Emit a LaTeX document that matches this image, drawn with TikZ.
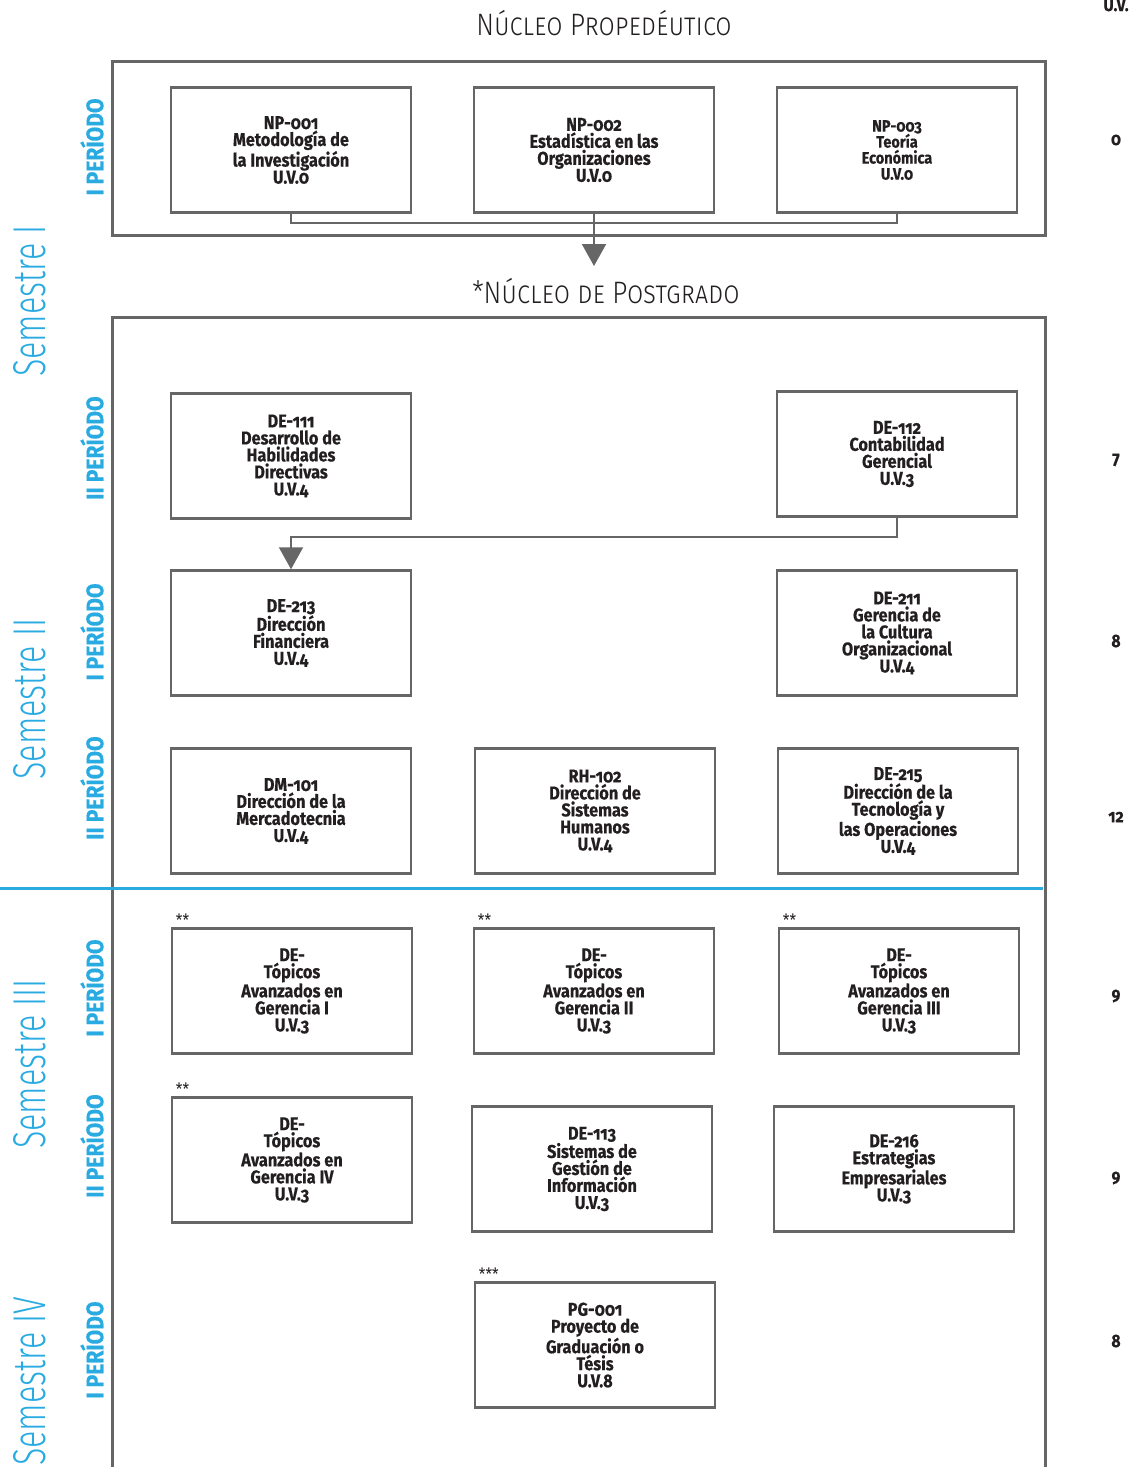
\documentclass[tikz,border=0pt]{standalone}
\usepackage{fontspec}
\usetikzlibrary{arrows.meta}
\newfontfamily\boxfont{Fira Sans}[Numbers=OldStyle,FakeStretch=0.88,BoldFeatures={FakeBold=0.4}]
\newfontfamily\semfont{Fira Sans Light}[FakeStretch=0.7]
\newfontfamily\titlefont{Fira Sans Light}[Letters=SmallCaps,FakeStretch=0.85]
\definecolor{framegray}{HTML}{666666}
\definecolor{semblue}{HTML}{29ABE2}
\definecolor{inktext}{HTML}{231F20}
\tikzset{
  curso/.style={draw=framegray, line width=2.5pt, fill=white, minimum width=240pt,
    minimum height=125pt, align=center, inner sep=0pt, text=inktext,
    font=\boxfont\bfseries\fontsize{18.5}{17}\selectfont},
  marco/.style={draw=framegray, line width=3pt},
  enlace/.style={draw=framegray, line width=2pt},
  flecha/.style={enlace, -{Triangle[width=24pt,length=22pt]}},
  semestre/.style={rotate=90, text=semblue, font=\semfont\fontsize{46}{46}\selectfont},
  periodo/.style={rotate=90, text=semblue, font=\boxfont\bfseries\fontsize{24}{24}\selectfont},
  uv/.style={text=inktext, font=\boxfont\bfseries\fontsize{18}{18}\selectfont},
  nota/.style={anchor=south west, inner sep=0pt, text=inktext, font=\boxfont\fontsize{17}{17}\selectfont},
  titulo/.style={text=inktext, font=\titlefont\fontsize{31}{31}\selectfont}
}
\begin{document}
\begin{tikzpicture}[x=1pt,y=-1pt]
  \useasboundingbox (0,0) rectangle (1144,1467);

  % titulos y marcos
  \node[titulo] (tprop) at (604,23) {Núcleo Propedéutico};
  \node[titulo] (tpost) at (606,291) {*Núcleo de Postgrado};
  \node[uv, anchor=base] (uvhead) at (1116,11) {U.V.};
  \draw[marco] (112,61) rectangle (1045,235);
  \draw[marco] (112,1470) -- (112,317) -- (1045,317) -- (1045,1470);
  \draw[semblue, line width=3pt] (0,888) -- (1043,888);

  % semestres
  \node[semestre] (sem1) at (30,301) {Semestre I};
  \node[semestre] (sem2) at (30,699) {Semestre II};
  \node[semestre] (sem3) at (30,1064) {Semestre III};
  \node[semestre, anchor=west, inner sep=0pt] (sem4) at (30,1466) {Semestre IV};

  % periodos
  \node[periodo] (per1a) at (92,147) {I PERÍODO};
  \node[periodo] (per1b) at (92,448) {II PERÍODO};
  \node[periodo] (per2a) at (92,632) {I PERÍODO};
  \node[periodo] (per2b) at (92,788) {II PERÍODO};
  \node[periodo] (per3a) at (92,988) {I PERÍODO};
  \node[periodo] (per3b) at (92,1146) {II PERÍODO};
  \node[periodo] (per4a) at (92,1350) {I PERÍODO};

  % nucleo propedeutico
  \node[curso] (np1) at (291,150) {NP-001\\Metodología de\\la Investigación\\U.V.0};
  \node[curso] (np2) at (594,150) {NP-002\\Estadística en las\\Organizaciones\\U.V.0};
  \node[curso, font=\boxfont\bfseries\fontsize{16.5}{16}\selectfont] (np3) at (897,150) {NP-003\\Teoría\\Económica\\U.V.0};
  \coordinate (jprop) at (594,223);
  \coordinate (tipprop) at (594,266);
  \draw[enlace] (np1.south) |- (jprop) -| (np3.south);
  \draw[flecha] (np2.south) -- (tipprop);

  % semestre I y II
  \node[curso] (de111) at (291,456) {DE-111\\Desarrollo de\\Habilidades\\Directivas\\U.V.4};
  \node[curso] (de112) at (897,454) {DE-112\\Contabilidad\\Gerencial\\U.V.3};
  \node[curso] (de213) at (291,633) {DE-213\\Dirección\\Financiera\\U.V.4};
  \node[curso] (de211) at (897,633) {DE-211\\Gerencia de\\la Cultura\\Organizacional\\U.V.4};
  \coordinate (jde) at (600,537);
  \draw[flecha] (de112.south) |- (jde) -| (de213.north);

  \node[curso] (dm101) at (291,811) {DM-101\\Dirección de la\\Mercadotecnia\\U.V.4};
  \node[curso] (rh102) at (595,811) {RH-102\\Dirección de\\Sistemas\\Humanos\\U.V.4};
  \node[curso] (de215) at (898,811) {DE-215\\Dirección de la\\Tecnología y\\las Operaciones\\U.V.4};

  % semestre III
  \node[curso] (top1) at (292,991) {DE-\\Tópicos\\Avanzados en\\Gerencia I\\U.V.3};
  \node[curso] (top2) at (594,991) {DE-\\Tópicos\\Avanzados en\\Gerencia II\\U.V.3};
  \node[curso] (top3) at (899,991) {DE-\\Tópicos\\Avanzados en\\Gerencia III\\U.V.3};
  \node[curso] (top4) at (292,1160) {DE-\\Tópicos\\Avanzados en\\Gerencia IV\\U.V.3};
  \node[curso] (de113) at (592,1169) {DE-113\\Sistemas de\\Gestión de\\Información\\U.V.3};
  \node[curso] (de216) at (894,1169) {DE-216\\Estrategias\\Empresariales\\U.V.3};
  \node[nota] (ast1) at ([shift={(5,-1)}]top1.north west) {**};
  \node[nota] (ast2) at ([shift={(5,-1)}]top2.north west) {**};
  \node[nota] (ast3) at ([shift={(5,-1)}]top3.north west) {**};
  \node[nota] (ast4) at ([shift={(5,-1)}]top4.north west) {**};

  % semestre IV
  \node[curso] (pg001) at (595,1345) {PG-001\\Proyecto de\\Graduación o\\Tésis\\U.V.8};
  \node[nota] (ast5) at ([shift={(5,-1)}]pg001.north west) {***};

  % unidades de valor
  \node[uv] (uv0) at (1116,140) {0};
  \node[uv] (uv1) at (1116,460) {7};
  \node[uv] (uv2) at (1116,641) {8};
  \node[uv] (uv3) at (1116,817) {12};
  \node[uv] (uv4) at (1116,996) {9};
  \node[uv] (uv5) at (1116,1178) {9};
  \node[uv] (uv6) at (1116,1341) {8};
\end{tikzpicture}
\end{document}
